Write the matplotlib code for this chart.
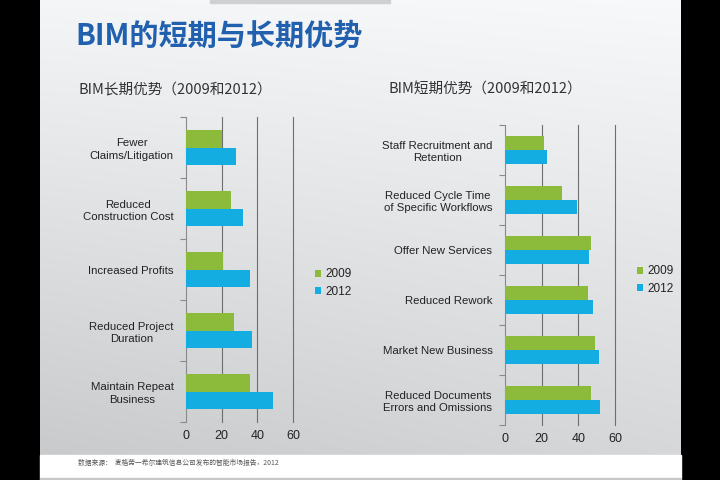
import numpy as np
import matplotlib
matplotlib.use("Agg")
import matplotlib.pyplot as plt
from matplotlib.patches import Rectangle

plt.rcParams['font.family'] = ['Liberation Sans', 'Noto Sans CJK SC', 'DejaVu Sans']

# ---- data ----
years = ["2009", "2012"]
long_cats = ["Fewer\nClaims/Litigation", "Reduced\nConstruction Cost", "Increased Profits",
             "Reduced Project\nDuration", "Maintain Repeat\nBusiness"]
long_2009 = [20, 25, 21, 27, 36]
long_2012 = [28, 32, 36, 37, 49]

short_cats = ["Staff Recruitment and\nRetention", "Reduced Cycle Time\nof Specific Workflows",
              "Offer New Services", "Reduced Rework", "Market New Business",
              "Reduced Documents\nErrors and Omissions"]
short_2009 = [21, 31, 47, 45, 49, 47]
short_2012 = [23, 39, 46, 48, 51, 52]

xticks = [0, 20, 40, 60]

title = "BIM的短期与长期优势"
sub_long = "BIM长期优势（2009和2012）"
sub_short = "BIM短期优势（2009和2012）"
footer = "数据来源：  麦格劳一希尔建筑信息公司发布的智能市场报告，2012"

GREEN = "#8cbb3c"
BLUE = "#14ade2"

W, H = 720, 480
fig = plt.figure(figsize=(7.2, 4.8), dpi=100)
fig.patch.set_facecolor("black")

# ---- background (slide) ----
bg = fig.add_axes([0, 0, 1, 1])
bg.set_xlim(0, W)
bg.set_ylim(H, 0)
bg.axis("off")
xs = np.linspace(0, 1, 200)
ys = np.linspace(0, 1, 200)
X, Y = np.meshgrid(xs, ys)
val = 0.975 - 0.13 * Y - 0.04 * (1 - X) * (0.3 + Y)
img = np.dstack([val - 0.005, val, val + 0.008])
img = np.clip(img, 0, 1)
bg.imshow(img, extent=(40, 681, 455, 0), aspect="auto", zorder=0)
bg.add_patch(Rectangle((40, 455), 641, 23, color="white", zorder=1))
bg.add_patch(Rectangle((40, 478), 641, 2, color="#c8c8c8", zorder=1))
bg.add_patch(Rectangle((210, 0), 180, 3, color="#d0d0d0", zorder=1))

bg.text(75, 36, title, fontsize=21, fontweight="bold", color="#2160ae",
        family=['Noto Sans CJK SC', 'DejaVu Sans'], va="center", ha="left", zorder=2)
bg.text(78, 90, sub_long, fontsize=10.5, color="#333333",
        family=['Noto Sans CJK SC', 'DejaVu Sans'], va="center", ha="left", zorder=2)
bg.text(388, 90, sub_short, fontsize=10.5, color="#333333",
        family=['Noto Sans CJK SC', 'DejaVu Sans'], va="center", ha="left", zorder=2)
bg.text(78, 463, footer, fontsize=4.9, color="#555555",
        family=['Noto Sans CJK SC', 'DejaVu Sans'], va="center", ha="left", zorder=2)


def px_axes(x0, x1, y0, y1):
    return fig.add_axes([x0 / W, 1 - y1 / H, (x1 - x0) / W, (y1 - y0) / H])


def draw(ax, cats, v09, v12, legend_xy):
    n = len(cats)
    pos = np.arange(n)
    h = 0.28
    b1 = ax.barh(pos - h / 2, v09, height=h, color=GREEN, label=years[0], zorder=3)
    b2 = ax.barh(pos + h / 2, v12, height=h, color=BLUE, label=years[1], zorder=3)
    ax.set_xlim(0, 60)
    ax.set_ylim(n - 0.5, -0.5)
    ax.set_facecolor("none")
    for s in ["top", "right", "bottom"]:
        ax.spines[s].set_visible(False)
    ax.spines["left"].set_color("#8a8a8a")
    ax.spines["left"].set_linewidth(0.8)
    ax.set_xticks(xticks)
    ax.set_xticklabels([str(t) for t in xticks], fontsize=9, color="#222222")
    ax.tick_params(axis="x", length=0, pad=6)
    for t in xticks[1:]:
        ax.axvline(t, color="#6e6e6e", lw=0.8, zorder=1, clip_on=False)
    ax.set_yticks(pos)
    ax.set_yticklabels(cats, fontsize=8.2, color="#222222", multialignment="center",
                       linespacing=1.3)
    ax.tick_params(axis="y", which="major", length=0, pad=9)
    ax.set_yticks(np.arange(n + 1) - 0.5, minor=True)
    ax.tick_params(axis="y", which="minor", length=4, color="#8a8a8a", width=0.8)
    leg = ax.legend(handles=[b1, b2], loc="center left", bbox_to_anchor=legend_xy,
                    bbox_transform=fig.transFigure, frameon=False, fontsize=8.5,
                    handlelength=0.55, handleheight=0.55, handletextpad=0.3,
                    labelspacing=0.45, borderpad=0)
    for t in leg.get_texts():
        t.set_color("#222222")


ax1 = px_axes(186, 293, 117, 422)
draw(ax1, long_cats, long_2009, long_2012, (309 / W, 1 - 283 / H))

ax2 = px_axes(505, 615, 125, 425)
draw(ax2, short_cats, short_2009, short_2012, (631 / W, 1 - 280 / H))

fig.savefig("out.png", dpi=100, facecolor=fig.get_facecolor())
